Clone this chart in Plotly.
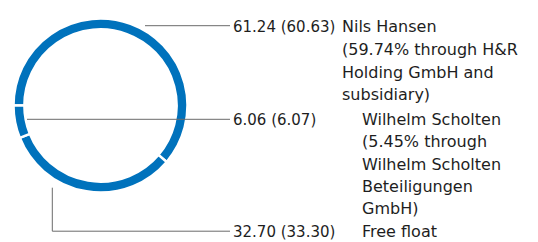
import plotly.graph_objects as go

# ---- data ----
holders = ["Nils Hansen", "Wilhelm Scholten", "Free float"]
share_now = [61.24, 6.06, 32.70]
share_prev = [60.63, 6.07, 33.30]
holder_notes = [
    ["(59.74% through H&R", "Holding GmbH and", "subsidiary)"],
    ["(5.45% through", "Wilhelm Scholten", "Beteiligungen", "GmbH)"],
    [],
]
pie_order = [0, 2, 1]  # clockwise from 9 o'clock

W, H = 538, 242
BLUE = "#0072BC"
TXT = "#1e1e1e"
LINE = "#6b6b6b"
FONT = "DejaVu Sans"

fig = go.Figure()

# ring
cx, cy, R = 100.5, 105.5, 87.0
fig.add_trace(go.Pie(
    labels=[holders[i] for i in pie_order],
    values=[share_now[i] for i in pie_order],
    sort=False,
    direction="clockwise",
    rotation=270,
    hole=0.875,
    marker=dict(colors=[BLUE] * 3, line=dict(color="white", width=2.5)),
    textinfo="none",
    hoverinfo="skip",
    showlegend=False,
    domain=dict(x=[(cx - R) / W, (cx + R) / W],
                y=[(H - cy - R) / H, (H - cy + R) / H]),
))

# invisible axes in pixel space for the leader lines and labels
fig.add_trace(go.Scatter(x=[0, W], y=[0, H], mode="markers",
                         marker=dict(opacity=0), hoverinfo="skip", showlegend=False))

shapes = []
def seg(x0, y0, x1, y1):
    shapes.append(dict(type="line", xref="x", yref="y", x0=x0, y0=y0, x1=x1, y1=y1,
                       line=dict(color=LINE, width=1), layer="above"))

seg(145, 25.7, 230, 25.7)
seg(27, 119.3, 230, 119.3)
seg(52.3, 187.7, 52.3, 231.2)
seg(52.3, 231.2, 230, 231.2)

annotations = []
def txt(x, y, s, size):
    annotations.append(dict(x=x, y=y, xref="x", yref="y", text=s, showarrow=False,
                            xanchor="left", yanchor="middle",
                            font=dict(family=FONT, size=size, color=TXT)))

num_y = [26.8, 119.5, 231.7]
label_x = [340, 360, 360]
line_gap = [22.6, 22.3, 22.3]
for i in range(3):
    txt(231, num_y[i], f"{share_now[i]:.2f} ({share_prev[i]:.2f})", 15)
    lines = [holders[i]] + holder_notes[i]
    for k, s in enumerate(lines):
        txt(label_x[i], num_y[i] + k * line_gap[i], s, 16)

fig.update_layout(
    width=W, height=H,
    margin=dict(l=0, r=0, t=0, b=0),
    paper_bgcolor="white", plot_bgcolor="rgba(0,0,0,0)",
    xaxis=dict(range=[0, W], visible=False, fixedrange=True),
    yaxis=dict(range=[H, 0], visible=False, fixedrange=True),
    shapes=shapes,
    annotations=annotations,
)

fig.write_html("out.html", config={"staticPlot": True},
               post_script="document.body.style.margin='0';document.body.style.overflow='hidden';")
